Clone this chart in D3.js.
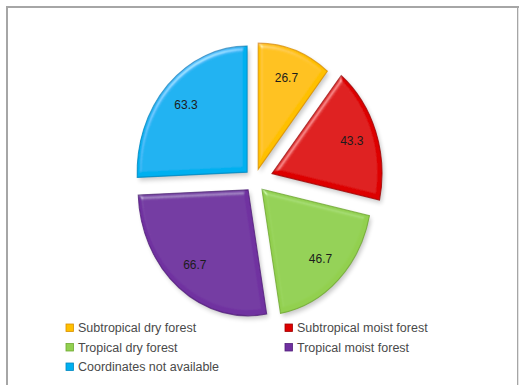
<!DOCTYPE html>
<html>
<head>
<meta charset="utf-8">
<script src="https://cdn.jsdelivr.net/npm/d3@7/dist/d3.min.js"></script>
<style>
  html, body { margin: 0; padding: 0; background: #fff; }
  svg { display: block; }
</style>
</head>
<body>
<svg id="chart" width="520" height="385"></svg>
<script>
// ---- data ----
const categories = [
  "Subtropical dry forest",
  "Subtropical moist forest",
  "Tropical dry forest",
  "Tropical moist forest",
  "Coordinates not available"
];
const values = [26.7, 43.3, 46.7, 66.7, 63.3];
const valueLabels = ["26.7", "43.3", "46.7", "66.7", "63.3"];

// ---- styles ----
const colors = ["#FFC000", "#DD0000", "#92D050", "#7030A0", "#00B0F0"];
const rims   = ["#D99000", "#A00000", "#6FA830", "#52207A", "#0088C0"];
const explodeBy = { "Subtropical moist forest": 21 };
const defaultExplode = 12;

const svg = d3.select("#chart");

// frame
svg.append("rect").attr("x", 7).attr("y", 7).attr("width", 511).attr("height", 400)
  .attr("fill", "#fff").attr("stroke", "#a6a6a6").attr("stroke-width", 2);
svg.append("line").attr("x1", 518.5).attr("x2", 518.5).attr("y1", 8).attr("y2", 385)
  .attr("stroke", "#e4e4e4").attr("stroke-width", 1);

const defs = svg.append("defs");
const bevel = defs.append("filter").attr("id", "bevel")
  .attr("x", "-10%").attr("y", "-10%").attr("width", "120%").attr("height", "120%");
bevel.append("feGaussianBlur").attr("in", "SourceAlpha").attr("stdDeviation", 2.5).attr("result", "blur");
const spec = bevel.append("feSpecularLighting").attr("in", "blur")
  .attr("surfaceScale", 4).attr("specularConstant", 0.7).attr("specularExponent", 24)
  .attr("lighting-color", "#ffffff").attr("result", "spec");
spec.append("feDistantLight").attr("azimuth", 235).attr("elevation", 35);
bevel.append("feComposite").attr("in", "spec").attr("in2", "SourceAlpha").attr("operator", "in").attr("result", "specOut");
bevel.append("feComposite").attr("in", "SourceGraphic").attr("in2", "specOut")
  .attr("operator", "arithmetic").attr("k1", 0).attr("k2", 1).attr("k3", 0.45).attr("k4", 0);

const shadow = defs.append("filter").attr("id", "shadow")
  .attr("x", "-20%").attr("y", "-20%").attr("width", "140%").attr("height", "140%");
shadow.append("feGaussianBlur").attr("in", "SourceAlpha").attr("stdDeviation", 2.5);
shadow.append("feOffset").attr("dx", 2).attr("dy", 3).attr("result", "ob");
shadow.append("feComponentTransfer").append("feFuncA").attr("type", "linear").attr("slope", 0.22);

// pie geometry
const cx = 254.7, cy = 180.5;
const R = 126, sx = 110 / 126;
const labelR = 97;

const pie = d3.pie().sort(null).value(d => d.value);
const data = categories.map((c, i) => ({ cat: c, value: values[i], label: valueLabels[i], i }));
const arcs = pie(data);
const arc = d3.arc().innerRadius(0).outerRadius(R);

const g = svg.append("g").attr("transform", `translate(${cx},${cy})`);

function offset(a) {
  const mid = (a.startAngle + a.endAngle) / 2;
  const d = explodeBy[a.data.cat] ?? defaultExplode;
  return [d * Math.sin(mid) * sx, -d * Math.cos(mid), mid];
}

// shadows
g.selectAll("path.sh").data(arcs).join("path").attr("class", "sh")
  .attr("transform", a => { const [ox, oy] = offset(a); return `translate(${ox},${oy}) scale(${sx},1)`; })
  .attr("d", arc).attr("fill", "#000").attr("filter", "url(#shadow)");

// slices
g.selectAll("path.slice").data(arcs).join("path").attr("class", "slice")
  .attr("transform", a => { const [ox, oy] = offset(a); return `translate(${ox},${oy}) scale(${sx},1)`; })
  .attr("d", arc)
  .attr("fill", a => colors[a.data.i])
  .attr("stroke", a => rims[a.data.i])
  .attr("stroke-width", 1.2)
  .attr("stroke-opacity", 0.8)
  .attr("filter", "url(#bevel)");

// value labels
g.selectAll("text.val").data(arcs).join("text").attr("class", "val")
  .attr("x", a => { const [ox, , mid] = offset(a); return ox + labelR * Math.sin(mid) * sx; })
  .attr("y", a => { const [, oy, mid] = offset(a); return oy - labelR * Math.cos(mid); })
  .attr("text-anchor", "middle").attr("dominant-baseline", "central")
  .attr("font-family", "'Liberation Sans', Arial, sans-serif").attr("font-size", 12)
  .attr("fill", "#1c1c1c")
  .text(a => a.data.label);

// legend
const legend = svg.append("g").attr("font-family", "'Liberation Sans', Arial, sans-serif")
  .attr("font-size", 12.5).attr("fill", "#4a4a4a");
const colX = [66, 285], rowY = [328, 347.5, 367];
data.forEach((d, i) => {
  const col = i % 2, row = Math.floor(i / 2);
  const it = legend.append("g").attr("transform", `translate(${colX[col]},${rowY[row]})`);
  it.append("rect").attr("x", 0).attr("y", -4).attr("width", 7.5).attr("height", 7.5)
    .attr("fill", colors[i]).attr("stroke", rims[i]).attr("stroke-width", 0.8);
  it.append("text").attr("x", 12).attr("y", 0).attr("dominant-baseline", "central").text(d.cat);
});
</script>
</body>
</html>
